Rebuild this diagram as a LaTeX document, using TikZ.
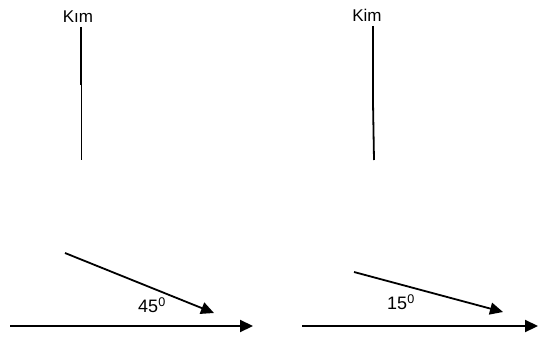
\documentclass[tikz,border=0pt]{standalone}
\usepackage{fontspec}
\setmainfont{Liberation Sans}
\usetikzlibrary{arrows.meta}

\begin{document}
\begin{tikzpicture}[x=1pt, y=-1pt, >={Triangle[length=13pt,width=12pt]},
		kimtext/.style={font=\fontsize{17}{19}\selectfont, inner sep=0pt},
		angletext/.style={font=\fontsize{18}{20}\selectfont, inner sep=0pt},
		upper/.style={line width=2.2pt},
		lower/.style={line width=1pt}]
	%Bildbereich
	\useasboundingbox (0,0) rectangle (538,337);
	% linke Seite
	\node[kimtext] (kimA) at (78,17) {Kım};
	\coordinate (topA) at (81,27);
	\coordinate (midA) at (81,85);
	\coordinate (botA) at (81,160);
	\draw[upper] (topA) -- (midA);
	\draw[lower] (midA) -- (botA);
	\coordinate (baseAstart) at (10,326);
	\coordinate (baseAend) at (253,326);
	\draw[->,line width=2.2pt] (baseAstart) -- (baseAend);
	\coordinate (rayAstart) at (65,253);
	\coordinate (rayAend) at (214,313);
	\draw[->,line width=1.8pt] (rayAstart) -- (rayAend);
	\node[angletext] (angleA) at (152,305) {45\textsuperscript{0}};
	% rechte Seite
	\node[kimtext] (kimB) at (367,15) {Kim};
	\coordinate (topB) at (373,26);
	\coordinate (midB) at (373,102);
	\coordinate (botB) at (374,160);
	\draw[upper] (topB) -- (midB);
	\draw[line width=1.8pt] (midB) -- (botB);
	\coordinate (baseBstart) at (302,326);
	\coordinate (baseBend) at (538,326);
	\draw[->,line width=2.2pt] (baseBstart) -- (baseBend);
	\coordinate (rayBstart) at (354,272);
	\coordinate (rayBend) at (503,312);
	\draw[->,line width=1.8pt] (rayBstart) -- (rayBend);
	\node[angletext] (angleB) at (401,302) {15\textsuperscript{0}};
\end{tikzpicture}
\end{document}
